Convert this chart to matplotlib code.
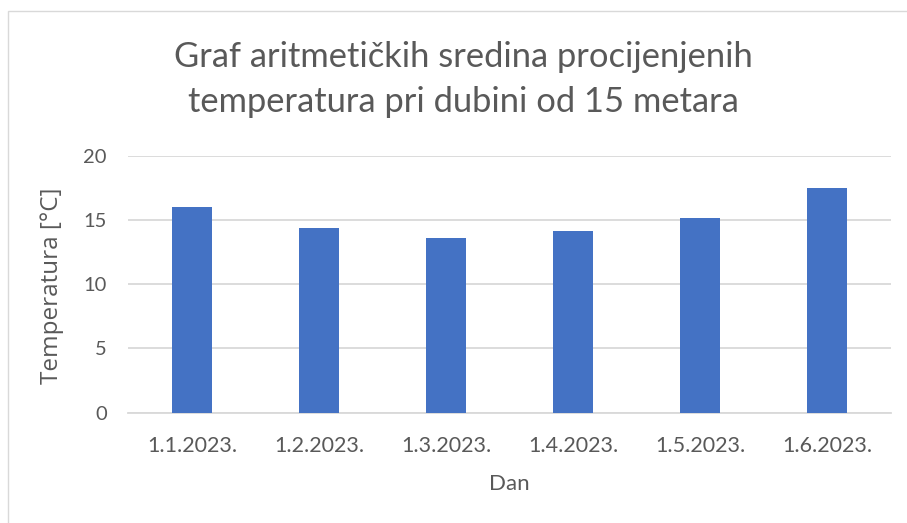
import matplotlib
matplotlib.use("Agg")
import matplotlib.pyplot as plt
from matplotlib.patches import Rectangle

categories = ["1.1.2023.", "1.2.2023.", "1.3.2023.", "1.4.2023.", "1.5.2023.", "1.6.2023."]
values = [16.0, 14.4, 13.6, 14.15, 15.15, 17.45]
yticks = [0, 5, 10, 15, 20]

title_lines = ["Graf aritmetičkih sredina procijenjenih", "temperatura pri dubini od 15 metara"]
xlabel = "Dan"
ylabel = "Temperatura [°C]"

W, H = 907, 523
fig = plt.figure(figsize=(W / 100, H / 100), dpi=100)
fig.patch.set_facecolor("white")

# chart border
fig.patches.append(Rectangle((7.5 / W, -0.01), 1.05, 1 - 10.5 / H + 0.01, transform=fig.transFigure,
                             fill=False, edgecolor="#d9d9d9", linewidth=1.0))

ax = fig.add_axes([128.4 / W, 1 - 412.7 / H, (890.7 - 128.4) / W, (412.7 - 155.7) / H])
x = list(range(len(categories)))
ax.bar(x, values, width=0.319, color="#4472C4", zorder=3)
ax.set_xlim(-0.5, len(categories) - 0.5)
ax.set_ylim(0, 20)
ax.set_yticks(yticks)
ax.set_xticks(x)
ax.set_xticklabels(categories, fontsize=15.5, color="#595959", family="Lato")
ax.set_yticklabels([str(v) for v in yticks], fontsize=14.5, color="#595959", family="Lato")
ax.tick_params(axis="y", length=0, pad=15.5)
ax.tick_params(axis="x", length=0, pad=17)
ax.yaxis.grid(True, color="#d9d9d9", linewidth=1.3, zorder=0)
for s in ["top", "right", "left"]:
    ax.spines[s].set_visible(False)
ax.spines["bottom"].set_color("#d9d9d9")
ax.spines["bottom"].set_linewidth(1.3)

fig.text(463 / W, 1 - 67 / H, title_lines[0], ha="center", va="baseline", fontsize=24.8,
         color="#595959", family="Lato")
fig.text(463 / W, 1 - 112 / H, title_lines[1], ha="center", va="baseline", fontsize=24.8,
         color="#595959", family="Lato")
fig.text(509 / W, 1 - 490.5 / H, xlabel, ha="center", va="baseline", fontsize=16, color="#595959",
         family="Lato")
fig.text(52 / W, 1 - 286 / H, ylabel, ha="center", va="center", rotation=90, fontsize=17.5,
         color="#595959", family="Open Sans")

fig.savefig("out.png", dpi=100, facecolor="white")
